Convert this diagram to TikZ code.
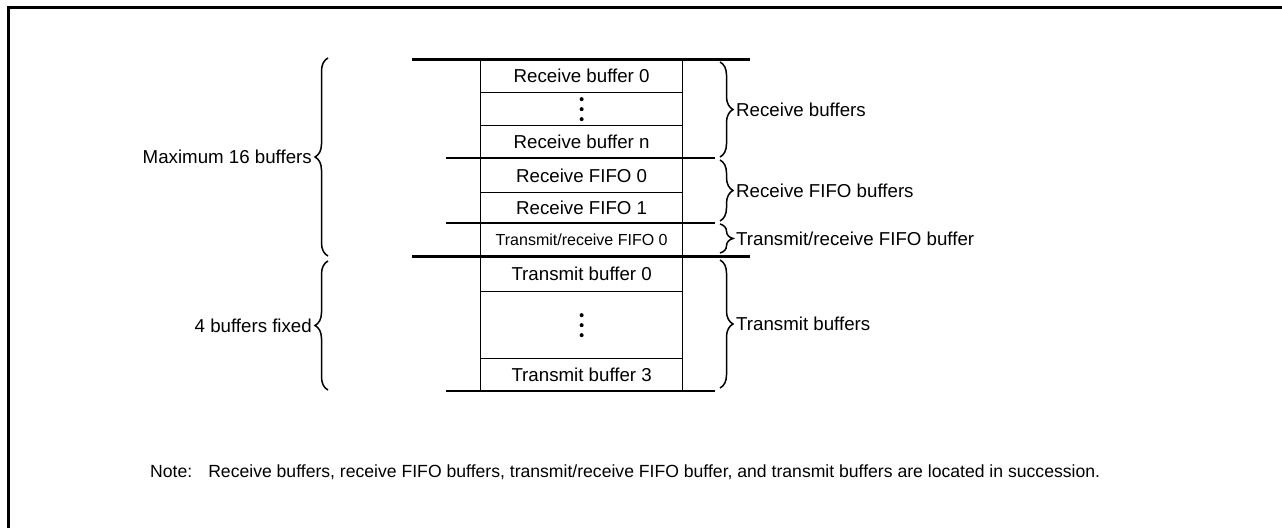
\documentclass[tikz,border=0pt]{standalone}
\usepackage{fontspec}
\setmainfont{Liberation Sans}
\usetikzlibrary{decorations.pathreplacing}
\begin{document}
\begin{tikzpicture}[x=1pt,y=-1pt,
  row/.style={draw, line width=1.3pt, minimum width=202pt, inner sep=0pt,
    anchor=north west, font=\fontsize{18.7}{20}\selectfont},
  smallrow/.style={row, font=\fontsize{16}{18}\selectfont},
  thickline/.style={line width=3pt},
  thinline/.style={line width=1.3pt},
  rbrace/.style={decorate, decoration={brace, amplitude=13pt}, line width=1.5pt},
  lbl/.style={inner sep=0pt, font=\fontsize{18.7}{20}\selectfont},
  notelbl/.style={inner sep=0pt, font=\fontsize{17.6}{20}\selectfont},
  dot/.style={fill=black, circle, inner sep=0pt, minimum size=4pt}]
\useasboundingbox (0,0) rectangle (1282,528);
\draw[thickline] (8,528) -- (8,7) -- (1282,7);

% rows
\node[row, minimum height=33pt] (r0) at (480,59) {Receive buffer 0};
\node[row, minimum height=33pt] (r1) at (480,92) {};
\node[row, minimum height=33pt] (r2) at (480,125) {Receive buffer n};
\node[row, minimum height=34pt] (f0) at (480,158) {Receive FIFO 0};
\node[row, minimum height=31pt] (f1) at (480,192) {Receive FIFO 1};
\node[smallrow, minimum height=33pt] (tr) at (480,223) {Transmit/receive FIFO 0};
\node[row, minimum height=35pt] (t0) at (480,256) {Transmit buffer 0};
\node[row, minimum height=67pt] (t1) at (480,291) {};
\node[row, minimum height=33pt] (t3) at (480,358) {Transmit buffer 3};

% dots
\foreach \d in {-10,0,10} {
  \node[dot] at ([yshift=\d pt]r1.center) {};
  \node[dot] at ([yshift=\d pt]t1.center) {};
}

% extension lines
\coordinate (a1) at (412,59);  \coordinate (a2) at (750,59);
\coordinate (b1) at (446,158); \coordinate (b2) at (715,158);
\coordinate (c1) at (446,223); \coordinate (c2) at (715,223);
\coordinate (d1) at (412,256); \coordinate (d2) at (750,256);
\coordinate (e1) at (446,391); \coordinate (e2) at (715,391);
\draw[thickline] (a1) -- (a2);
\draw[thickline] (d1) -- (d2);
\draw[thinline] (b1) -- (b2);
\draw[thinline] (c1) -- (c2);
\draw[thinline] (e1) -- (e2);

% right braces
\coordinate (rb1s) at (720,62);  \coordinate (rb1e) at (720,157);
\coordinate (rb2s) at (720,160); \coordinate (rb2e) at (720,221);
\coordinate (rb3s) at (720,224); \coordinate (rb3e) at (720,253);
\coordinate (rb4s) at (720,260); \coordinate (rb4e) at (720,388);
\draw[rbrace] (rb1s) -- (rb1e);
\draw[rbrace] (rb2s) -- (rb2e);
\draw[rbrace] (rb3s) -- (rb3e);
\draw[rbrace] (rb4s) -- (rb4e);
\node[lbl, anchor=west] (l1) at (736,109.5) {Receive buffers};
\node[lbl, anchor=west] (l2) at (736,190.5) {Receive FIFO buffers};
\node[lbl, anchor=west] (l3) at (736,238.5) {Transmit/receive FIFO buffer};
\node[lbl, anchor=west] (l4) at (736,324) {Transmit buffers};

% left braces
\coordinate (lb1s) at (328,256); \coordinate (lb1e) at (328,58);
\coordinate (lb2s) at (328,390); \coordinate (lb2e) at (328,261);
\draw[rbrace] (lb1s) -- (lb1e);
\draw[rbrace] (lb2s) -- (lb2e);
\node[lbl, anchor=east] (m1) at (312,157) {Maximum 16 buffers};
\node[lbl, anchor=east] (m2) at (312,325.5) {4 buffers fixed};

% note
\node[notelbl, anchor=west] (note) at (150,472) {Note:\hspace{16pt}Receive buffers, receive FIFO buffers, transmit/receive FIFO buffer, and transmit buffers are located in succession.};
\end{tikzpicture}
\end{document}
